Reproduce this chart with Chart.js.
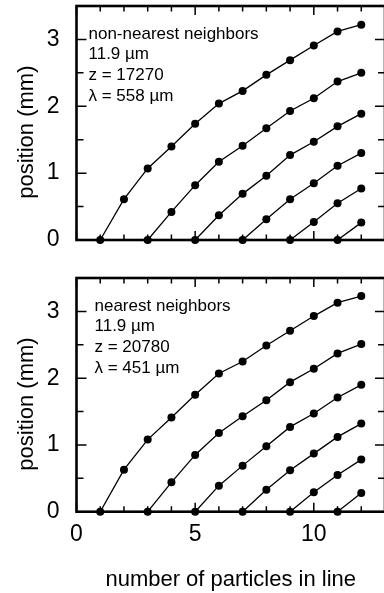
<!DOCTYPE html>
<html>
<head>
<meta charset="utf-8">
<script src="https://cdn.jsdelivr.net/npm/chart.js@4"></script>
<style>
    html, body { margin: 0; padding: 0; background: #fff; overflow: hidden; }
    body { width: 384px; height: 593px; position: relative; }
    canvas { position: absolute; left: 0; }
    #topChart { top: 0; }
    #bottomChart { top: 260px; }
</style>
</head>
<body>
<canvas id="topChart" width="400" height="260"></canvas>
<canvas id="bottomChart" width="400" height="333"></canvas>
<script>
// Data: each line starts at y = 0 at its start particle and runs to particle 12
const lineStarts = [1, 3, 5, 7, 9, 11];

// non-nearest neighbors (top panel)
const nnLine1 = [0, 0.61, 1.07, 1.4, 1.74, 2.04, 2.23, 2.47, 2.69, 2.91, 3.12, 3.22];
const nnLine2 = [0, 0.42, 0.82, 1.17, 1.41, 1.67, 1.93, 2.12, 2.37, 2.5];
const nnLine3 = [0, 0.37, 0.69, 0.96, 1.27, 1.47, 1.7, 1.89];
const nnLine4 = [0, 0.31, 0.61, 0.85, 1.11, 1.3];
const nnLine5 = [0, 0.27, 0.55, 0.77];
const nnLine6 = [0, 0.26];

// nearest neighbors (bottom panel)
const nLine1 = [0, 0.63, 1.08, 1.41, 1.75, 2.07, 2.25, 2.49, 2.71, 2.93, 3.13, 3.23];
const nLine2 = [0, 0.44, 0.85, 1.18, 1.43, 1.67, 1.94, 2.14, 2.37, 2.51];
const nLine3 = [0, 0.39, 0.69, 0.98, 1.27, 1.47, 1.71, 1.9];
const nLine4 = [0, 0.33, 0.62, 0.87, 1.12, 1.32];
const nLine5 = [0, 0.29, 0.55, 0.78];
const nLine6 = [0, 0.28];

const xTickLabels = ["0", "5", "10"];
const yTickLabels = ["0", "1", "2", "3"];

const topNote = ["non-nearest neighbors", "11.9 µm", "z = 17270", "λ = 558 µm"];
const bottomNote = ["nearest neighbors", "11.9 µm", "z = 20780", "λ = 451 µm"];

Chart.defaults.font.family = "'Liberation Sans', Arial, sans-serif";
Chart.defaults.color = "#000";

function makeDatasets(lines) {
    return lines.map((vals, i) => ({
        data: vals.map((v, k) => ({ x: lineStarts[i] + k, y: v })),
        borderColor: "#000",
        backgroundColor: "#000",
        borderWidth: 1.3,
        pointRadius: 4,
        pointBorderWidth: 0,
        showLine: true,
        clip: false,
    }));
}

// Boxed frame with inward tick marks on all four sides
const frame = {
    id: "frame",
    beforeDatasetsDraw(chart) {
        const { ctx, chartArea: a, scales } = chart;
        const x = scales.x, y = scales.y;
        ctx.save();
        ctx.strokeStyle = "#000";
        ctx.lineWidth = 1.5;
        ctx.beginPath();
        x.ticks.forEach((t) => {
            const px = x.getPixelForValue(t.value);
            const len = t.value % 5 === 0 ? 9 : 5.5;
            ctx.moveTo(px, a.bottom);
            ctx.lineTo(px, a.bottom - len);
            ctx.moveTo(px, a.top);
            ctx.lineTo(px, a.top + len);
        });
        y.ticks.forEach((t) => {
            const py = y.getPixelForValue(t.value);
            const len = Number.isInteger(t.value) ? 10 : 7;
            ctx.moveTo(a.left, py);
            ctx.lineTo(a.left + len, py);
            ctx.moveTo(a.right, py);
            ctx.lineTo(a.right - len, py);
        });
        ctx.stroke();
        ctx.lineWidth = 2.6;
        ctx.strokeRect(a.left, a.top, a.right - a.left, a.bottom - a.top);
        ctx.restore();
    },
};

// Text block in the upper-left corner of the plot
const note = {
    id: "note",
    afterDraw(chart, args, opts) {
        const { ctx, chartArea: a } = chart;
        ctx.save();
        ctx.fillStyle = "#000";
        ctx.font = "17px 'Liberation Sans', Arial, sans-serif";
        ctx.textBaseline = "alphabetic";
        opts.lines.forEach((line, i) => {
            ctx.fillText(line, a.left + opts.dx, a.top + opts.dy + i * 20.8);
        });
        ctx.restore();
    },
};

function makeChart(id, lines, noteLines, noteDx, padTop, xHeight, showX) {
    return new Chart(document.getElementById(id), {
        type: "scatter",
        data: { datasets: makeDatasets(lines) },
        plugins: [frame, note],
        options: {
            responsive: false,
            animation: false,
            devicePixelRatio: 1,
            layout: { padding: { top: padTop, right: 15, left: 0, bottom: 0 } },
            plugins: {
                legend: { display: false },
                tooltip: { enabled: false },
                note: { lines: noteLines, dx: noteDx, dy: 32.5 },
            },
            scales: {
                x: {
                    type: "linear",
                    min: 0,
                    max: 13,
                    grid: { display: false, drawTicks: false },
                    border: { display: false },
                    ticks: {
                        display: showX,
                        stepSize: 1,
                        autoSkip: false,
                        maxTicksLimit: 100,
                        maxRotation: 0,
                        padding: 9,
                        font: { size: 23 },
                        callback: (v) => (xTickLabels.includes(String(v)) ? String(v) : ""),
                    },
                    title: {
                        display: showX,
                        text: "number of particles in line",
                        font: { size: 22 },
                        padding: { top: 2, bottom: 0 },
                    },
                    afterFit: (s) => {
                        s.height = xHeight;
                        s.paddingLeft = 0;
                        s.paddingRight = 0;
                    },
                },
                y: {
                    min: 0,
                    max: 3.5,
                    grid: { display: false, drawTicks: false },
                    border: { display: false },
                    ticks: {
                        stepSize: 0.5,
                        autoSkip: false,
                        padding: 17,
                        font: { size: 23 },
                        callback: (v) => (yTickLabels.includes(String(v)) ? String(v) : ""),
                    },
                    title: {
                        display: true,
                        text: "position (mm)   ",
                        font: { size: 22 },
                        padding: { top: 14, bottom: 0 },
                    },
                    afterFit: (s) => {
                        s.width = 76.5;
                        s.paddingTop = 0;
                        s.paddingBottom = 0;
                    },
                },
            },
        },
    });
}

makeChart("topChart", [nnLine1, nnLine2, nnLine3, nnLine4, nnLine5, nnLine6], topNote, 12, 6, 20, false);
makeChart("bottomChart", [nLine1, nLine2, nLine3, nLine4, nLine5, nLine6], bottomNote, 18, 18, 81.3, true);
</script>
</body>
</html>
